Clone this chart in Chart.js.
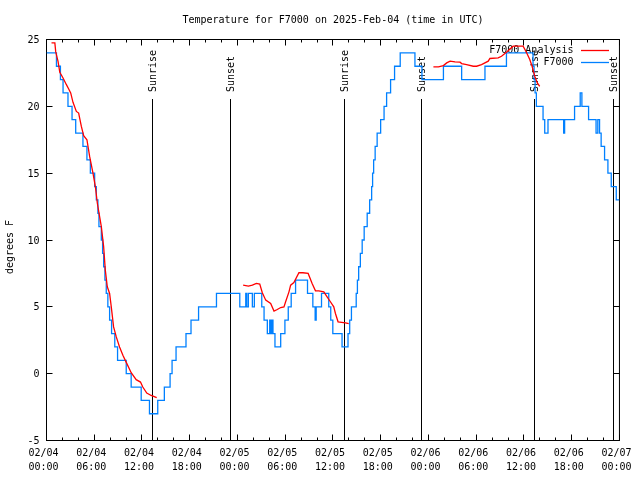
<!DOCTYPE html>
<html>
<head>
<meta charset="utf-8">
<title>Temperature for F7000</title>
<script src="https://cdn.jsdelivr.net/npm/chart.js@4.4.1/dist/chart.umd.min.js"></script>
<style>
  html, body { margin: 0; padding: 0; background: #fff; }
</style>
</head>
<body>
<canvas id="chart" width="640" height="480"></canvas>
<script>
// hours since 02/04 00:00 UTC
const blueHours = [0, 1.25, 1.75, 2.08, 2.7, 3.21, 3.67, 4.58, 5.08, 5.51, 6.05, 6.26, 6.46, 6.59, 6.89, 7.05, 7.18, 7.34, 7.51, 7.71, 7.93, 8.18, 8.58, 8.93, 10.02, 10.64, 11.9, 12.94, 13.98, 14.81, 15.53, 15.78, 16.28, 17.53, 18.16, 19.11, 21.36, 24.29, 25.04, 25.17, 25.37, 25.87, 26.12, 27.05, 27.34, 27.75, 28.05, 28.17, 28.3, 28.46, 28.71, 29.43, 29.96, 30.38, 30.75, 31.3, 32.8, 33.47, 33.76, 33.89, 34.56, 35.47, 35.72, 35.98, 37.14, 37.89, 38.1, 38.32, 38.92, 39.07, 39.23, 39.44, 39.67, 39.92, 40.3, 40.61, 40.86, 40.98, 41.11, 41.3, 41.55, 41.99, 42.42, 42.74, 43.24, 43.74, 44.45, 46.3, 47.18, 49.88, 52.17, 55.1, 57.8, 61.14, 61.27, 61.4, 61.56, 62.4, 62.61, 63.02, 64.99, 65.11, 66.36, 67.07, 67.28, 68.12, 69.06, 69.28, 69.5, 69.7, 70.13, 70.55, 70.97, 71.6, 72];
const blueTemps = [24, 23, 22, 21, 20, 19, 18, 17, 16, 15, 14, 13, 12, 11, 10, 9, 8, 7, 6, 5, 4, 3, 2, 1, 0, -1, -2, -3, -2, -1, 0, 1, 2, 3, 4, 5, 6, 5, 6, 5, 6, 5, 6, 5, 4, 3, 4, 3, 4, 3, 2, 3, 4, 5, 6, 7, 6, 5, 4, 5, 6, 5, 4, 3, 2, 3, 4, 5, 6, 7, 8, 9, 10, 11, 12, 13, 14, 15, 16, 17, 18, 19, 20, 21, 22, 23, 24, 23, 22, 23, 22, 23, 24, 23, 22, 21, 20, 19, 18, 19, 18, 19, 20, 21, 20, 19, 18, 19, 18, 17, 16, 15, 14, 13, 13];

// analysis series, null = gap
const redHours = [0.63, 1.05, 1.16, 1.45, 1.67, 2.08, 2.5, 2.79, 3.04, 3.33, 3.75, 4.04, 4.38, 4.67, 5.08, 5.42, 5.84, 6.14, 6.39, 6.89, 7.18, 7.39, 7.64, 7.93, 8.14, 8.43, 8.77, 9.18, 9.6, 10.1, 10.64, 11.27, 11.81, 12.1, 12.6, 13.15, 13.85,
  19,
  24.71, 25.37, 25.87, 26.37, 26.8, 27.12, 27.55, 28.17, 28.59, 29.0, 29.43, 29.84, 30.05, 30.47, 30.68, 31.09, 31.72, 32.22, 32.88, 33.38, 33.8, 34.22, 34.85, 35.26, 35.68, 36.1, 36.31, 36.64, 37.57, 37.98,
  43,
  48.62, 49.25, 49.88, 50.29, 50.72, 51.34, 51.97, 52.17, 52.79, 53.63, 54.05, 54.67, 55.09, 55.51, 55.72, 56.76, 57.18, 57.8, 58.64, 59.89, 60.31, 60.73, 61.02, 61.36, 61.68, 61.98];
const redTemps = [24.75, 24.75, 24.07, 23.37, 22.55, 22.12, 21.62, 21.3, 21.0, 20.3, 19.62, 19.5, 18.5, 17.8, 17.5, 16.25, 15.0, 14.0, 12.75, 11.0, 9.5, 7.75, 6.5, 6.0, 5.0, 3.5, 2.75, 2.0, 1.37, 0.75, 0.07, -0.45, -0.63, -1.0, -1.45, -1.63, -1.8,
  null,
  6.62, 6.55, 6.62, 6.75, 6.7, 6.05, 5.5, 5.25, 4.68, 4.8, 4.95, 5.0, 5.38, 6.12, 6.62, 6.82, 7.55, 7.55, 7.5, 6.75, 6.2, 6.2, 6.12, 5.75, 5.38, 5.0, 4.5, 3.88, 3.8, 3.75,
  null,
  22.95, 22.95, 23.05, 23.25, 23.38, 23.32, 23.3, 23.2, 23.12, 23.0, 23.0, 23.12, 23.25, 23.38, 23.58, 23.62, 23.75, 24.05, 24.5, 24.5, 24.05, 23.5, 23.0, 22.25, 21.75, 21.5];

const sunHours = [13.31, 23.13, 37.4, 47.12, 61.32, 71.25];
const sunNames = ['Sunrise', 'Sunset', 'Sunrise', 'Sunset', 'Sunrise', 'Sunset'];

const tickDays = ['02/04', '02/04', '02/04', '02/04', '02/05', '02/05', '02/05', '02/05', '02/06', '02/06', '02/06', '02/06', '02/07'];
const tickTimes = ['00:00', '06:00', '12:00', '18:00', '00:00', '06:00', '12:00', '18:00', '00:00', '06:00', '12:00', '18:00', '00:00'];

const FONT = '"DejaVu Sans Mono", "Liberation Mono", monospace';

// gnuplot style frame, inward ticks, sun lines, title and key
const gnuplotFrame = {
  id: 'gnuplotFrame',
  beforeDatasetsDraw(chart) {
    const ctx = chart.ctx;
    const a = chart.chartArea;
    const xs = chart.scales.x, ys = chart.scales.y;
    ctx.save();
    ctx.strokeStyle = '#000';
    ctx.fillStyle = '#000';
    ctx.lineWidth = 1;
    ctx.strokeRect(a.left, a.top, a.right - a.left, a.bottom - a.top);

    ctx.beginPath();
    for (let h = 0; h <= 72; h += 2) {
      const px = Math.floor(xs.getPixelForValue(h)) + 0.5;
      const len = h % 6 === 0 ? 6 : 3;
      ctx.moveTo(px, a.bottom); ctx.lineTo(px, a.bottom - len);
      ctx.moveTo(px, a.top); ctx.lineTo(px, a.top + len);
    }
    for (let v = -5; v <= 25; v += 5) {
      const py = Math.floor(ys.getPixelForValue(v)) + 0.5;
      ctx.moveTo(a.left, py); ctx.lineTo(a.left + 6, py);
      ctx.moveTo(a.right, py); ctx.lineTo(a.right - 6, py);
    }
    ctx.stroke();

    ctx.font = '10px ' + FONT;
    ctx.textBaseline = 'middle';

    // sunrise / sunset markers
    sunHours.forEach((h, i) => {
      const px = Math.floor(xs.getPixelForValue(h)) + 0.5;
      ctx.beginPath();
      ctx.moveTo(px, 99);
      ctx.lineTo(px, a.bottom);
      ctx.stroke();
      ctx.save();
      ctx.translate(px + 1, 92);
      ctx.rotate(-Math.PI / 2);
      ctx.textAlign = 'left';
      ctx.fillText(sunNames[i], 0, 0);
      ctx.restore();
    });

    // title
    ctx.textAlign = 'center';
    ctx.fillText('Temperature for F7000 on 2025-Feb-04 (time in UTC)', (a.left + a.right) / 2, 20);

    // y axis title
    ctx.save();
    ctx.translate(10.5, 247);
    ctx.rotate(-Math.PI / 2);
    ctx.fillText('degrees F', 0, 0);
    ctx.restore();

    // key
    ctx.textAlign = 'right';
    chart.data.datasets.forEach((ds, i) => {
      const ky = 50 + i * 12.5;
      ctx.fillStyle = '#000';
      ctx.fillText(ds.label, 573.5, ky);
      ctx.strokeStyle = ds.borderColor;
      ctx.lineWidth = ds.borderWidth;
      ctx.beginPath();
      ctx.moveTo(581, Math.floor(ky) + 0.5);
      ctx.lineTo(609, Math.floor(ky) + 0.5);
      ctx.stroke();
    });
    ctx.restore();
  }
};

new Chart(document.getElementById('chart'), {
  type: 'line',
  data: {
    datasets: [{
      label: 'F7000 Analysis',
      data: redHours.map((h, i) => ({ x: h, y: redTemps[i] })),
      borderColor: '#ff0000',
      borderWidth: 1.3,
      pointRadius: 0,
      spanGaps: false,
      tension: 0
    }, {
      label: 'F7000',
      data: blueHours.map((h, i) => ({ x: h, y: blueTemps[i] })),
      borderColor: '#0080ff',
      borderWidth: 1.3,
      pointRadius: 0,
      stepped: 'before',
      tension: 0
    }]
  },
  options: {
    responsive: false,
    animation: false,
    devicePixelRatio: 1,
    layout: { padding: { top: 39.5, right: 18.5, bottom: 0, left: 0 } },
    plugins: {
      legend: { display: false },
      title: { display: false },
      tooltip: { enabled: false }
    },
    scales: {
      x: {
        type: 'linear',
        min: 0,
        max: 72,
        afterFit: (s) => { s.height = 39.5; },
        grid: { display: false, drawTicks: false },
        border: { display: false },
        ticks: {
          stepSize: 6,
          autoSkip: false,
          maxRotation: 0,
          padding: 5.5,
          labelOffset: -3,
          color: '#000',
          font: { family: FONT, size: 10, lineHeight: 1.4 },
          callback: (v) => [tickDays[v / 6], tickTimes[v / 6]]
        }
      },
      y: {
        min: -5,
        max: 25,
        afterFit: (s) => { s.width = 46.5; },
        grid: { display: false, drawTicks: false },
        border: { display: false },
        ticks: {
          stepSize: 5,
          padding: 7,
          labelOffset: 1,
          color: '#000',
          font: { family: FONT, size: 10 }
        }
      }
    }
  },
  plugins: [gnuplotFrame]
});
</script>
</body>
</html>
